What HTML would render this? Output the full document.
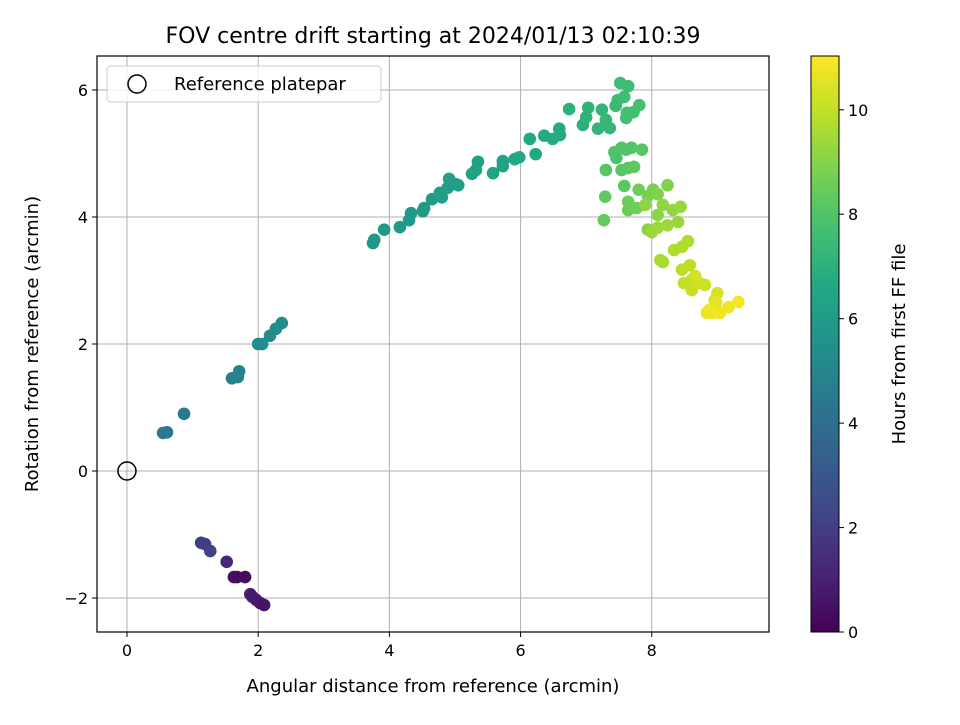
<!DOCTYPE html>
<html><head><meta charset="utf-8"><style>
body{margin:0;background:#fff;}
svg text{font-family:"DejaVu Sans","Liberation Sans",sans-serif;}
</style></head><body>
<svg id="chart" width="960" height="720" xmlns="http://www.w3.org/2000/svg">
<defs>
<linearGradient id="vir" x1="0" y1="1" x2="0" y2="0">
<stop offset="0" stop-color="#440154"/><stop offset="0.1" stop-color="#482475"/><stop offset="0.2" stop-color="#414487"/><stop offset="0.3" stop-color="#355f8d"/><stop offset="0.4" stop-color="#2a788e"/><stop offset="0.5" stop-color="#21918c"/><stop offset="0.6" stop-color="#22a884"/><stop offset="0.7" stop-color="#44bf70"/><stop offset="0.8" stop-color="#7ad151"/><stop offset="0.9" stop-color="#bddf26"/><stop offset="1" stop-color="#fde725"/>
</linearGradient>
<clipPath id="clip"><rect x="97" y="56" width="672" height="576"/></clipPath>
</defs>
<text x="433" y="43" font-size="22" text-anchor="middle">FOV centre drift starting at 2024/01/13 02:10:39</text>
<g id="grid"></g>
<g id="points" clip-path="url(#clip)"></g>
<rect x="97" y="56" width="672" height="576" fill="none" stroke="#000" stroke-width="1.2"/>
<g id="ticks"></g>
<text x="433" y="692" font-size="18" text-anchor="middle">Angular distance from reference (arcmin)</text>
<text transform="translate(38,344) rotate(-90)" font-size="18" text-anchor="middle">Rotation from reference (arcmin)</text>
<g>
<rect x="107" y="66" width="274" height="36" rx="4" fill="#fff" fill-opacity="0.8" stroke="#ccc"/>
<circle cx="137" cy="84" r="9" fill="none" stroke="#000" stroke-width="1.5"/>
<text x="174" y="90" font-size="18">Reference platepar</text>
</g>
<rect x="811" y="56" width="28" height="576" fill="url(#vir)" stroke="#000" stroke-width="1"/>
<g id="cbticks"></g>
<text transform="translate(905,344) rotate(-90)" font-size="18" text-anchor="middle">Hours from first FF file</text>
</svg>
<script>
const xs=[1.52,1.63,1.68,1.80,1.88,1.91,1.97,2.03,2.09,1.13,1.19,1.27,0.55,0.61,0.87,1.60,1.69,1.71,2.0,2.06,2.18,2.27,2.36,3.75,3.77,3.92,4.16,4.30,4.33,4.51,4.53,4.65,4.77,4.80,4.89,4.91,5.0,5.05,5.26,5.35,5.32,5.58,5.73,5.73,5.91,5.98,6.14,6.23,6.36,6.49,6.59,6.60,6.74,6.95,7.0,7.03,7.18,7.24,7.30,7.36,7.45,7.48,7.52,7.64,7.58,7.62,7.61,7.72,7.81,7.43,7.46,7.54,7.61,7.69,7.85,7.54,7.30,7.58,7.64,7.73,7.29,7.27,7.64,7.64,7.80,7.77,7.94,8.02,8.09,8.24,7.94,8.09,7.90,8.17,8.32,8.44,8.40,8.24,8.09,8.0,8.13,8.17,8.34,8.46,8.55,8.46,8.58,8.49,8.61,8.61,8.73,8.81,8.66,8.96,9.0,8.84,8.93,9.04,9.17,9.32,8.98,8.88];
const ys=[-1.43,-1.67,-1.67,-1.67,-1.94,-1.98,-2.03,-2.08,-2.11,-1.13,-1.15,-1.26,0.60,0.61,0.90,1.46,1.48,1.57,2.0,2.0,2.13,2.24,2.33,3.59,3.64,3.80,3.84,3.95,4.06,4.09,4.14,4.28,4.38,4.31,4.46,4.60,4.52,4.50,4.68,4.87,4.74,4.69,4.80,4.88,4.91,4.94,5.23,4.99,5.28,5.23,5.39,5.29,5.70,5.45,5.57,5.72,5.39,5.69,5.53,5.40,5.75,5.84,6.11,6.06,5.89,5.64,5.56,5.65,5.76,5.02,4.93,5.09,5.06,5.09,5.06,4.74,4.74,4.49,4.77,4.79,4.32,3.95,4.24,4.11,4.43,4.14,4.33,4.43,4.36,4.50,3.80,4.03,4.19,4.19,4.11,4.16,3.92,3.87,3.83,3.76,3.32,3.29,3.48,3.53,3.62,3.17,3.24,2.96,3.01,2.85,2.96,2.93,3.07,2.69,2.80,2.49,2.49,2.49,2.58,2.66,2.65,2.54];
const hours=[1.2,0.5,0.4,0.3,1.0,0.9,0.8,0.7,0.6,2.0,2.0,2.1,4.4,4.4,4.5,4.9,4.9,4.9,5.3,5.3,5.3,5.4,5.4,5.8,5.8,5.9,5.9,5.9,5.9,6.0,6.0,6.0,6.1,6.1,6.1,6.1,6.1,6.1,6.3,6.2,6.3,6.4,6.4,6.4,6.5,6.5,6.6,6.6,6.7,6.7,6.7,6.7,7.0,7.0,7.1,7.1,7.2,7.2,7.3,7.3,7.4,7.5,7.6,7.6,7.6,7.7,7.7,7.7,7.8,7.9,7.9,8.0,8.0,8.0,8.1,8.1,8.1,8.2,8.2,8.3,8.3,8.4,8.5,8.5,8.6,8.6,8.8,8.8,8.9,8.9,9.0,9.1,9.1,9.2,9.2,9.3,9.3,9.4,9.4,9.4,9.6,9.6,9.7,9.7,9.7,9.9,9.9,10.0,10.0,10.1,10.2,10.2,10.3,10.4,10.4,10.7,10.7,10.8,10.8,10.9,10.6,10.8];
const xTicks=[0,2,4,6,8];
const yTicks=[-2,0,2,4,6];
const cbTicks=[0,2,4,6,8,10];
const X0=97,X1=769,Y0=56,Y1=632,xmin=-0.457,xmax=9.787,ymin=-2.535,ymax=6.535,hmax=11.03;
const sx=v=>X0+(v-xmin)/(xmax-xmin)*(X1-X0);
const sy=v=>Y1-(v-ymin)/(ymax-ymin)*(Y1-Y0);
const sc=v=>632-v/hmax*576;
const NS="http://www.w3.org/2000/svg";
const vir=[[68,1,84],[72,36,117],[65,68,135],[53,95,141],[42,120,142],[33,145,140],[34,168,132],[68,191,112],[122,209,81],[189,223,38],[253,231,37]];
function col(h){let t=Math.max(0,Math.min(1,h/hmax))*10;let i=Math.min(9,Math.floor(t)),f=t-i;const a=vir[i],b=vir[i+1];return `rgb(${a.map((c,k)=>Math.round(c+(b[k]-c)*f)).join(',')})`;}
function mk(tag,attrs,parent){const e=document.createElementNS(NS,tag);for(const k in attrs)e.setAttribute(k,attrs[k]);parent.appendChild(e);return e;}
const grid=document.getElementById('grid'),ticks=document.getElementById('ticks'),pts=document.getElementById('points'),cb=document.getElementById('cbticks');
xTicks.forEach(v=>{const x=sx(v);
const g=mk('line',{x1:x,x2:x,y1:Y0,y2:Y1,stroke:'#b0b0b0','stroke-width':1},grid);


mk('line',{x1:x,x2:x,y1:Y1,y2:Y1+5,stroke:'#000'},ticks);
const t=mk('text',{x:x,y:Y1+24,'font-size':16,'text-anchor':'middle'},ticks);t.textContent=v<0?'−'+(-v):v;

});
yTicks.forEach(v=>{const y=sy(v);
const g=mk('line',{x1:X0,x2:X1,y1:y,y2:y,stroke:'#b0b0b0','stroke-width':1},grid);


mk('line',{x1:X0-5,x2:X0,y1:y,y2:y,stroke:'#000'},ticks);
const t=mk('text',{x:X0-9,y:y+6,'font-size':16,'text-anchor':'end'},ticks);t.textContent=v<0?'−'+(-v):v;

});
cbTicks.forEach(v=>{const y=sc(v);
mk('line',{x1:839,x2:844,y1:y,y2:y,stroke:'#000'},cb);
const t=mk('text',{x:848,y:y+6,'font-size':16},cb);t.textContent=v;

});
xs.forEach((v,i)=>{const c=mk('circle',{cx:sx(v),cy:sy(ys[i]),r:6.3,fill:col(hours[i])},pts);

});
const ref=mk('circle',{cx:sx(0),cy:sy(0),r:9,fill:'none',stroke:'#000','stroke-width':1.5},pts);


</script>
</body></html>
